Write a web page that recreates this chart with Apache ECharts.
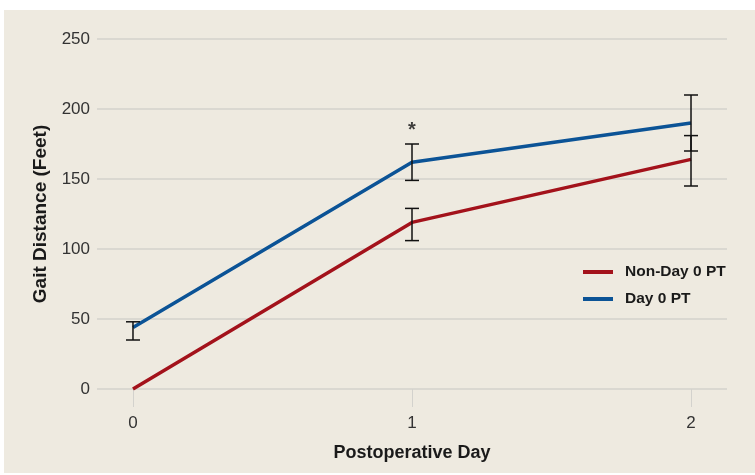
<!DOCTYPE html>
<html>
<head>
<meta charset="utf-8">
<script src="https://cdn.jsdelivr.net/npm/echarts@6/dist/echarts.min.js"></script>
<style>
  html, body { margin: 0; padding: 0; background: #fff; }
  #chart { width: 755px; height: 475px; }
</style>
</head>
<body>
<div id="chart"></div>
<script>
// postoperative day
const days = [0, 1, 2];
// mean gait distance (feet)
const nonDay0 = [0, 119, 164];
const day0 = [44, 162, 190];
// error bars [low, high], null = none
const nonDay0Err = [null, [106, 129], [145, 181]];
const day0Err = [[35, 48], [149, 175], [170, 210]];
const yTicks = [0, 50, 100, 150, 200, 250];
// significance marker
const star = [[1, 185]];

const RED = "#a3121b";
const BLUE = "#0b5396";

const chart = echarts.init(document.getElementById("chart"));

function errData(err) {
  const out = [];
  err.forEach((e, i) => {
    if (e) out.push([days[i], e[0], e[1]]);
  });
  return out;
}

function errSeries(name, err) {
  return {
    name: name + " err",
    type: "custom",
    silent: true,
    z: 5,
    data: errData(err),
    renderItem(params, api) {
      const lo = api.coord([api.value(0), api.value(1)]);
      const hi = api.coord([api.value(0), api.value(2)]);
      const w = 7;
      const style = { stroke: "#111", lineWidth: 1.5 };
      return {
        type: "group",
        children: [
          { type: "line", shape: { x1: lo[0], y1: lo[1], x2: hi[0], y2: hi[1] }, style },
          { type: "line", shape: { x1: lo[0] - w, y1: lo[1], x2: lo[0] + w, y2: lo[1] }, style },
          { type: "line", shape: { x1: hi[0] - w, y1: hi[1], x2: hi[0] + w, y2: hi[1] }, style },
        ],
      };
    },
  };
}

chart.setOption({
  animation: false,
  backgroundColor: "#ffffff",
  textStyle: { fontFamily: "Liberation Sans, Arial, sans-serif" },
  graphic: [
    {
      type: "rect",
      z: -10,
      shape: { x: 4, y: 10, width: 751, height: 463 },
      style: { fill: "#eeeae0" },
    },
  ],
  grid: { left: 97, right: 28, top: 39, bottom: 86 },
  legend: {
    orient: "vertical",
    left: 583,
    top: 264,
    padding: 0,
    itemWidth: 30,
    itemHeight: 4,
    itemGap: 11,
    icon: "rect",
    data: ["Non-Day 0 PT", "Day 0 PT"],
    textStyle: { fontSize: 15.5, fontWeight: "bold", color: "#1a1a1a", padding: [0, 0, 0, 7] },
  },
  xAxis: {
    type: "value",
    min: -0.129,
    max: 2.129,
    name: "Postoperative Day",
    nameLocation: "middle",
    nameGap: 55,
    nameTextStyle: { fontSize: 18, fontWeight: "bold", color: "#1a1a1a" },
    axisLine: { show: false },
    splitLine: { show: false },
    axisTick: {
      show: true,
      customValues: days,
      length: 18,
      lineStyle: { color: "#d3d2cd", width: 1 },
    },
    axisLabel: {
      customValues: days,
      margin: 26,
      fontSize: 17,
      color: "#333",
    },
  },
  yAxis: {
    type: "value",
    min: yTicks[0],
    max: yTicks[yTicks.length - 1],
    interval: 50,
    name: "Gait Distance (Feet)",
    nameLocation: "middle",
    nameGap: 44,
    nameTextStyle: { fontSize: 19, fontWeight: "bold", color: "#1a1a1a" },
    axisLine: { show: false },
    axisTick: { show: false },
    axisLabel: { fontSize: 17, color: "#333", margin: 7 },
    splitLine: { lineStyle: { color: "#d3d2cd", width: 1.5 } },
  },
  series: [
    {
      name: "Non-Day 0 PT",
      type: "line",
      data: days.map((d, i) => [d, nonDay0[i]]),
      symbol: "none",
      color: RED,
      lineStyle: { width: 3.5, color: RED },
      z: 3,
    },
    {
      name: "Day 0 PT",
      type: "line",
      data: days.map((d, i) => [d, day0[i]]),
      symbol: "none",
      color: BLUE,
      lineStyle: { width: 3.5, color: BLUE },
      z: 3,
    },
    errSeries("Non-Day 0 PT", nonDay0Err),
    errSeries("Day 0 PT", day0Err),
    {
      name: "sig",
      type: "scatter",
      silent: true,
      data: star,
      symbolSize: 0,
      label: {
        show: true,
        formatter: "*",
        position: "inside",
        fontSize: 20,
        fontWeight: "bold",
        color: "#111",
      },
    },
  ],
});
</script>
</body>
</html>
